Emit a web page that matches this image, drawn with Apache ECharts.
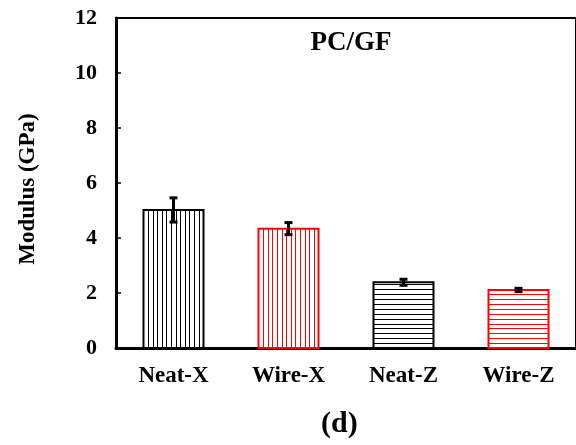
<!DOCTYPE html>
<html>
<head>
<meta charset="utf-8">
<script src="https://cdn.jsdelivr.net/npm/echarts@6/dist/echarts.min.js"></script>
<style>
  html, body { margin: 0; padding: 0; background: #fff; }
  #chart { width: 576px; height: 445px; }
</style>
</head>
<body>
<div id="chart"></div>
<script>
// values
const categories = ["Neat-X", "Wire-X", "Neat-Z", "Wire-Z"];
const modulus = [5.02, 4.34, 2.39, 2.11];
const modulusErr = [0.44, 0.22, 0.11, 0.06];
const yTicks = [0, 2, 4, 6, 8, 10, 12];

// styling per bar
const barColors = ["#000000", "#ff0000", "#000000", "#ff0000"];
const hatchDir = ["v", "v", "h", "h"];

const FONT = "Liberation Serif";

const chart = echarts.init(document.getElementById("chart"), null, { renderer: "canvas" });

function renderBar(params, api) {
  const idx = api.value(0);
  const top = api.coord([idx, api.value(1)]);
  const base = api.coord([idx, 0]);
  const w = 60;
  const x0 = top[0] - w / 2;
  const color = barColors[idx];
  const children = [
    { type: "rect", shape: { x: x0, y: top[1], width: w, height: base[1] - top[1] }, style: { fill: "#fff" } },
  ];
  if (hatchDir[idx] === "v") {
    for (let x = x0 + 4.6; x < x0 + w - 1; x += 4.6) {
      children.push({
        type: "line",
        shape: { x1: Math.round(x) + 0.5, y1: top[1], x2: Math.round(x) + 0.5, y2: base[1] },
        style: { stroke: color, lineWidth: 1 },
      });
    }
  } else {
    for (let y = base[1] - 4.9; y > top[1] + 1; y -= 4.9) {
      children.push({
        type: "line",
        shape: { x1: x0, y1: Math.round(y) + 0.5, x2: x0 + w, y2: Math.round(y) + 0.5 },
        style: { stroke: color, lineWidth: 1 },
      });
    }
  }
  children.push({
    type: "rect",
    shape: { x: x0, y: top[1], width: w, height: base[1] - top[1] },
    style: { fill: null, stroke: color, lineWidth: 2 },
  });
  return { type: "group", children };
}

function renderErr(params, api) {
  const idx = api.value(0);
  const hi = api.coord([idx, api.value(1) + api.value(2)]);
  const lo = api.coord([idx, api.value(1) - api.value(2)]);
  const cap = 4;
  const st = { stroke: "#000", lineWidth: 3 };
  return {
    type: "group",
    children: [
      { type: "line", shape: { x1: hi[0], y1: hi[1], x2: lo[0], y2: lo[1] }, style: st },
      { type: "line", shape: { x1: hi[0] - cap, y1: hi[1], x2: hi[0] + cap, y2: hi[1] }, style: st },
      { type: "line", shape: { x1: lo[0] - cap, y1: lo[1], x2: lo[0] + cap, y2: lo[1] }, style: st },
    ],
  };
}

const options = {
  backgroundColor: "#fff",
  animation: false,
  textStyle: { fontFamily: FONT },
  title: {
    text: "PC/GF",
    left: 346,
    top: 25,
    textAlign: "center",
    textStyle: { fontFamily: FONT, fontWeight: "bold", fontSize: 27, color: "#000" },
  },
  graphic: [
    {
      type: "text",
      left: 321,
      top: 409,
      style: { text: "(d)", fontFamily: FONT, fontWeight: "bold", fontSize: 30, fill: "#000" },
    },
  ],
  grid: {
    left: 116,
    top: 18,
    width: 464,
    bottom: 97,
    show: true,
    borderColor: "#000",
    borderWidth: 2,
    backgroundColor: "transparent",
  },
  xAxis: {
    type: "category",
    data: categories,
    axisLine: { lineStyle: { color: "#000", width: 3 } },
    axisTick: { show: false },
    axisLabel: { color: "#000", fontFamily: FONT, fontWeight: "bold", fontSize: 23, margin: 17 },
  },
  yAxis: {
    type: "value",
    min: yTicks[0],
    max: yTicks[yTicks.length - 1],
    interval: yTicks[1] - yTicks[0],
    name: "Modulus (GPa)",
    nameLocation: "middle",
    nameGap: 76,
    nameTextStyle: { color: "#000", fontFamily: FONT, fontWeight: "bold", fontSize: 23, padding: [0, 12, 0, 0] },
    axisLine: { show: true, lineStyle: { color: "#000", width: 3 } },
    axisTick: { show: true, inside: true, length: 5, lineStyle: { color: "#000", width: 1.5 } },
    splitLine: { show: false },
    axisLabel: { color: "#000", fontFamily: FONT, fontWeight: "bold", fontSize: 22, margin: 19 },
  },
  series: [
    {
      type: "custom",
      name: "Modulus",
      renderItem: renderBar,
      encode: { x: 0, y: 1 },
      data: modulus.map((v, i) => [i, v]),
      z: 2,
    },
    {
      type: "custom",
      name: "Error",
      renderItem: renderErr,
      encode: { x: 0, y: [1] },
      data: modulus.map((v, i) => [i, v, modulusErr[i]]),
      z: 3,
    },
  ],
};

chart.setOption(options);
</script>
</body>
</html>
